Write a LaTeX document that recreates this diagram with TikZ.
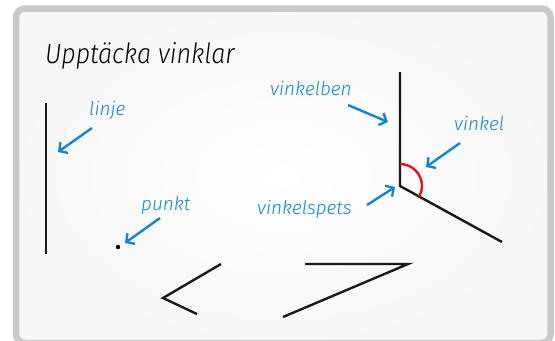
\documentclass[tikz,border=0pt]{standalone}
\usepackage{fontspec}
\newfontfamily\hand{Fira Sans Light Italic}
\usetikzlibrary{arrows.meta}
\definecolor{labelblue}{RGB}{20,133,205}
\definecolor{framegray}{RGB}{200,201,201}
\definecolor{anglered}{RGB}{228,20,28}
\begin{document}
\begin{tikzpicture}[x=1bp,y=-1bp,
  seg/.style={line width=2.4bp, black!90},
  pointer/.style={labelblue, line width=2.4bp, -{Straight Barb[length=6bp,width=13bp]}},
  lbl/.style={labelblue, font=\hand\fontsize{19}{19}\selectfont, inner sep=0pt, anchor=base west},
  title/.style={black, font=\hand\fontsize{28}{28}\selectfont, inner sep=0pt, anchor=base west, xscale=0.9},
]
\useasboundingbox (0,0) rectangle (555,340);
\fill[white] (0,0) rectangle (555,340);
% board with grey frame
\begin{scope}
  \clip (0,0) rectangle (555,340);
  \shade[inner color=white, outer color=black!3, rounded corners=6bp] (16,8.5) rectangle (550.5,343);
  \draw[framegray, line width=6.5bp, rounded corners=9bp] (16,8.5) rectangle (550.5,343);
\end{scope}

\node[title] (heading) at (45,63) {Upptäcka vinklar};

% a line
\coordinate (lineTop) at (46,103);
\coordinate (lineBot) at (46,254);
\draw[seg] (lineTop) -- (lineBot);
\node[lbl] (linje) at (89,115) {linje};
\coordinate (linjeA) at (92,128);
\coordinate (linjeB) at (58,152);
\draw[pointer] (linjeA) -- (linjeB);

% a point
\coordinate (pt) at (118,247);
\fill[black] (pt) circle[radius=2.2bp];
\node[lbl] (punkt) at (141,210) {punkt};
\coordinate (punktA) at (160,218);
\coordinate (punktB) at (125,243);
\draw[pointer] (punktA) -- (punktB);

% the labelled angle
\coordinate (armTop) at (400,72);
\coordinate (vertex) at (400,186);
\coordinate (armEnd) at (502,242);
\draw[seg, line join=miter] (armTop) -- (vertex) -- (armEnd);
\draw[anglered, line width=2.4bp] (400,164) arc[start angle=-90, end angle=28.8, radius=22];

\node[lbl] (vinkelben) at (270,95) {vinkelben};
\coordinate (benA) at (348,105);
\coordinate (benB) at (388,122);
\draw[pointer] (benA) -- (benB);

\node[lbl] (vinkel) at (454,130) {vinkel};
\coordinate (vinkelA) at (460,143);
\coordinate (vinkelB) at (426,167);
\draw[pointer] (vinkelA) -- (vinkelB);

\node[lbl] (vinkelspets) at (257,214) {vinkelspets};
\coordinate (spetsA) at (367,205);
\coordinate (spetsB) at (395,187);
\draw[pointer] (spetsA) -- (spetsB);

% two more angles
\coordinate (ltA) at (221,264);
\coordinate (ltV) at (163,298);
\coordinate (ltB) at (197,314);
\draw[seg, line join=miter] (ltA) -- (ltV) -- (ltB);

\coordinate (zA) at (305,264);
\coordinate (zV) at (408,264);
\coordinate (zB) at (283,317);
\draw[seg, line join=miter] (zA) -- (zV) -- (zB);
\end{tikzpicture}
\end{document}
